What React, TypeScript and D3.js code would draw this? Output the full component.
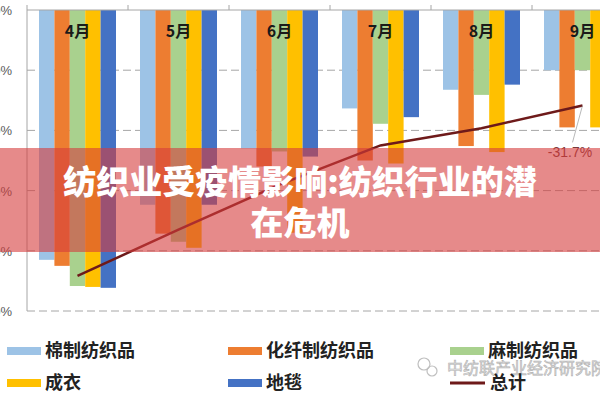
import React from 'react';
import * as d3 from 'd3';

const months = ['4月', '5月', '6月', '7月', '8月', '9月'];
const seriesNames = ['棉制纺织品', '化纤制纺织品', '麻制纺织品', '成衣', '地毯'];
const cotton = [-83, -64.7, -46, -32.7, -26.5, -20];
const chemical = [-85, -74.3, -52, -50, -45.2, -39];
const linen = [-91.7, -77, -47, -37.8, -28.2, -20];
const apparel = [-92, -79, -74, -51, -47.2, -39];
const carpet = [-92.3, -64.7, -48.7, -35.6, -24.8, -30];
const total = [-88.3, -73, -58, -45, -39.3, -31.7];
const totalName = '总计';
const yTicks = [0, -20, -40, -60, -80, -100];
const totalLabel = '-31.7%';
const title1 = '纺织业受疫情影响:纺织行业的潜';
const title2 = '在危机';
const watermark = '中纺联产业经济研究院';

const colors = ['#9DC3E6', '#ED7D31', '#A9D18E', '#FFC000', '#4472C4'];
const lineColor = '#6e1a1a';

export default function App() {
  const W = 600, H = 400;
  const seriesValues = [cotton, chemical, linen, apparel, carpet];
  const x0 = d3.scaleBand<string>().domain(months).range([27, 633]).padding(0);
  const x1 = d3.scaleBand<string>().domain(seriesNames).range([12, 89]).padding(0);
  const y = d3.scaleLinear().domain([0, -100]).range([10, 311]);
  const line = d3
    .line<number>()
    .x((_, i) => (x0(months[i]) as number) + x0.bandwidth() / 2)
    .y((d) => y(d));

  const lastX = (x0(months[5]) as number) + x0.bandwidth() / 2;
  const lastY = y(total[5]);

  const legendItems = [
    { name: seriesNames[0], color: colors[0], x: 7, y: 351 },
    { name: seriesNames[1], color: colors[1], x: 228, y: 351 },
    { name: seriesNames[2], color: colors[2], x: 450, y: 351 },
    { name: seriesNames[3], color: colors[3], x: 7, y: 383 },
    { name: seriesNames[4], color: colors[4], x: 228, y: 383 },
  ];

  return (
    <svg
      width={W}
      height={H}
      style={{ position: 'absolute', left: 0, top: 0, background: '#fff' }}
      fontFamily="'Noto Sans CJK SC', 'Noto Sans', sans-serif"
    >
      <rect x={0} y={0} width={W} height={H} fill="#fff" />
      {yTicks.slice(1).map((t) => (
        <line key={t} x1={27} x2={W} y1={y(t)} y2={y(t)} stroke="#a6a6a6" strokeWidth={1} strokeDasharray="8,4" />
      ))}
      {yTicks.map((t) => (
        <text key={'l' + t} x={12} y={y(t) + 5} fontSize={13} textAnchor="end" fill="#595959" fontFamily="'Liberation Sans', Arial, sans-serif">
          {t + '%'}
        </text>
      ))}
      {months.map((m, i) => (
        <g key={m} transform={`translate(${x0(m)},0)`}>
          {seriesNames.map((s, j) => {
            const v = seriesValues[j][i];
            return (
              <rect
                key={s}
                x={x1(s)}
                y={y(0)}
                width={x1.bandwidth()}
                height={y(v) - y(0)}
                fill={colors[j]}
              />
            );
          })}
        </g>
      ))}
      <line x1={27} x2={W} y1={y(0)} y2={y(0)} stroke="#a6a6a6" strokeWidth={1} />
      <line x1={27} x2={27} y1={y(0)} y2={y(-100)} stroke="#a6a6a6" strokeWidth={1} />
      {months.map((m) => (
        <line key={'t' + m} x1={x0(m)} x2={x0(m)} y1={y(0) - 5} y2={y(0)} stroke="#a6a6a6" strokeWidth={1} />
      ))}
      {months.map((m) => (
        <text
          key={'m' + m}
          x={(x0(m) as number) + x0.bandwidth() / 2}
          y={37}
          fontSize={16}
          fontWeight={700}
          textAnchor="middle"
          fill="#1a1a1a"
        >
          {m}
        </text>
      ))}
      <path d={line(total) || ''} fill="none" stroke={lineColor} strokeWidth={2.5} />
      <line x1={lastX} y1={lastY} x2={lastX - 10} y2={lastY + 37} stroke="#a6a6a6" strokeWidth={0.8} />
      <text x={570} y={157} fontSize={14} textAnchor="middle" fill="#7a3b3b" fontFamily="'Liberation Sans', Arial, sans-serif">
        {totalLabel}
      </text>
      {legendItems.map((it) => (
        <g key={it.name}>
          <rect x={it.x} y={it.y - 4} width={34} height={8} fill={it.color} />
          <text x={it.x + 38} y={it.y + 6} fontSize={18} fontWeight={700} fill="#222">
            {it.name}
          </text>
        </g>
      ))}
      <g opacity={0.75}>
        <circle cx={424} cy={364} r={6} fill="none" stroke="#aaa" strokeWidth={1.2} />
        <circle cx={432} cy={371} r={5} fill="none" stroke="#aaa" strokeWidth={1.2} />
        <text x={447} y={374} fontSize={16} fill="#d8d8d8" stroke="#999" strokeWidth={0.6}>
          {watermark}
        </text>
      </g>
      <line x1={450} x2={485} y1={383} y2={383} stroke={lineColor} strokeWidth={3} />
      <text x={490} y={389} fontSize={18} fontWeight={700} fill="#222">
        {totalName}
      </text>
      <rect x={0} y={148} width={W} height={104} fill="rgb(214,60,60)" opacity={0.6} />
      <text x={300} y={194} fontSize={33} fontWeight={900} textAnchor="middle" fill="#fff">
        {title1}
      </text>
      <text x={300} y={235} fontSize={33} fontWeight={900} textAnchor="middle" fill="#fff">
        {title2}
      </text>
    </svg>
  );
}
